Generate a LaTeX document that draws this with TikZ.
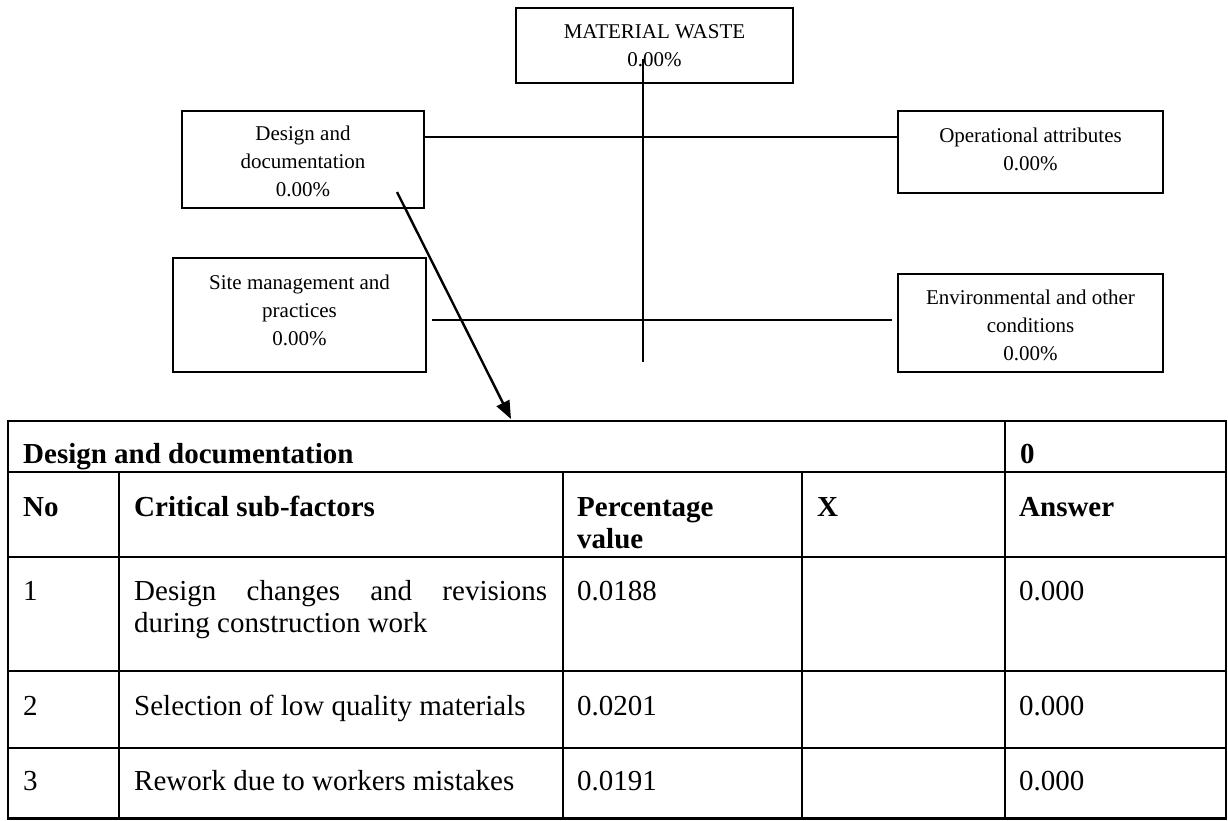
\documentclass[tikz,border=0pt]{standalone}
\usepackage{fontspec}
\setmainfont{Liberation Serif}
\usetikzlibrary{arrows.meta}
\begin{document}
\begin{tikzpicture}[x=1pt,y=-1pt,
  box/.style={draw, line width=1.8pt, inner sep=0pt, align=center, font=\fontsize{21}{28}\selectfont},
  conn/.style={line width=1.6pt},
  arr/.style={line width=2.4pt, -{Triangle[length=18pt,width=14pt]}},
  tline/.style={line width=2.9pt},
  cell/.style={anchor=base west, inner sep=0pt, font=\fontsize{29}{32}\selectfont},
  hcell/.style={anchor=base west, inner sep=0pt, font=\fontsize{29}{32}\selectfont\bfseries}]
\useasboundingbox (0,0) rectangle (1228,820);

% factor boxes
\node[box, minimum width=277pt, minimum height=75pt] (mw) at (654.5,45.5) {MATERIAL WASTE\\0.00\%};
\node[box, minimum width=242pt, minimum height=97pt] (dd) at (303,159.5) {\rule{0pt}{19pt}Design and\\documentation\\0.00\%};
\node[box, minimum width=265pt, minimum height=82pt] (op) at (1030.5,152) {Operational attributes\\0.00\%\rule[-6pt]{0pt}{6pt}};
\node[box, minimum width=253pt, minimum height=114pt] (sm) at (299.5,315) {Site management and\\practices\\0.00\%\rule[-10pt]{0pt}{10pt}};
\node[box, minimum width=265pt, minimum height=98pt] (env) at (1030.5,323) {\rule{0pt}{19pt}Environmental and other\\conditions\\0.00\%};

% connectors
\coordinate (spT) at (643,59);
\coordinate (spB) at (643,362);
\draw[conn] (spT) -- (spB);
\coordinate (rowA) at (0,137);
\coordinate (rowB) at (0,320);
\draw[conn] (dd.east |- rowA) -- (op.west |- rowA);
\draw[conn] ([xshift=5pt]sm.east |- rowB) -- ([xshift=-5pt]env.west |- rowB);
\coordinate (aS) at (397,192);
\coordinate (aE) at (511,419);
\draw[arr] (aS) -- (aE);

% table grid
\draw[tline] (8,421) rectangle (1226,818.5);
\foreach \yy in {472,557,671,748} \draw[tline] (8,\yy) -- (1226,\yy);
\draw[tline] (1005,421) -- (1005,818.5);
\foreach \xx in {119,563,802} \draw[tline] (\xx,472) -- (\xx,818.5);

% table text
\node[hcell] (t0) at (23,463) {Design and documentation};
\node[hcell] (t0v) at (1020,463) {0};
\node[hcell] (hNo) at (23,516) {No};
\node[hcell] (hCrit) at (134,516) {Critical sub-factors};
\node[hcell] (hPerc) at (577,516) {\parbox[t]{200pt}{Percentage\\value}};
\node[hcell] (hX) at (817,516) {X};
\node[hcell] (hAns) at (1019,516) {Answer};

\node[cell] (r1n) at (23,600) {1};
\node[cell] (r1t) at (134,600) {\parbox[t]{413pt}{\makebox[413pt][s]{Design changes and revisions}\\during construction work}};
\node[cell] (r1p) at (577,600) {0.0188};
\node[cell] (r1a) at (1019,600) {0.000};

\node[cell] (r2n) at (23,715) {2};
\node[cell] (r2t) at (134,715) {Selection of low quality materials};
\node[cell] (r2p) at (577,715) {0.0201};
\node[cell] (r2a) at (1019,715) {0.000};

\node[cell] (r3n) at (23,790) {3};
\node[cell] (r3t) at (134,790) {Rework due to workers mistakes};
\node[cell] (r3p) at (577,790) {0.0191};
\node[cell] (r3a) at (1019,790) {0.000};
\end{tikzpicture}
\end{document}
